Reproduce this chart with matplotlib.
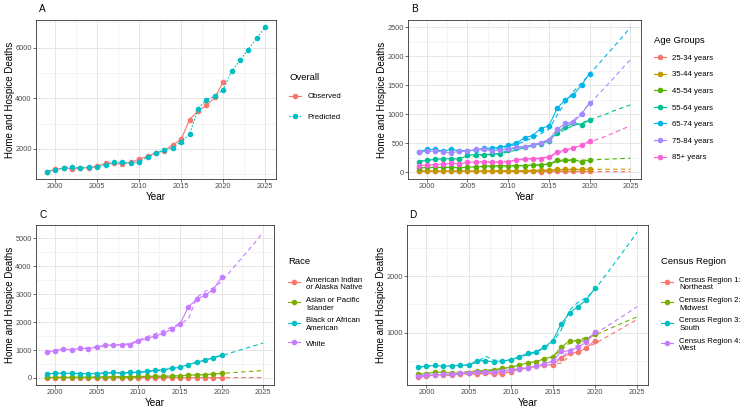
import matplotlib
matplotlib.use("Agg")
import matplotlib.pyplot as plt
from matplotlib.lines import Line2D
from matplotlib.ticker import MultipleLocator, FixedLocator

plt.rcParams['font.family'] = ['Liberation Sans', 'DejaVu Sans']

# ---------------- data ----------------
years_obs = list(range(1999, 2021))
years_pred = list(range(1999, 2026))

# Panel A: overall
overall_obs = [1110, 1190, 1240, 1220, 1250, 1260, 1320, 1430, 1430, 1410, 1470,
               1600, 1710, 1840, 1930, 2160, 2380, 3160, 3500, 3720, 4030, 4640]
overall_pred = [1100, 1180, 1260, 1300, 1240, 1280, 1290, 1380, 1500, 1470, 1430,
                1500, 1670, 1840, 1960, 2050, 2290, 2570, 3590, 3940, 4080, 4340,
                5060, 5490, 5920, 6370, 6800]

# Panel B: age groups
age_labels = ["25-34 years", "35-44 years", "45-54 years", "55-64 years",
              "65-74 years", "75-84 years", "85+ years"]
age_colors = ["#F8766D", "#C49A00", "#53B400", "#00C094", "#00B6EB", "#A58AFF", "#FB61D7"]
age_obs = [
    [10, 10, 10, 10, 10, 10, 10, 10, 10, 10, 10, 10, 10, 10, 10, 5, 10, 10, 10, 10, 10, 10],
    [25, 20, 20, 15, 20, 20, 20, 15, 20, 15, 20, 20, 25, 20, 20, 35, 30, 45, 45, 50, 45, 50],
    [70, 80, 80, 80, 80, 75, 85, 90, 100, 110, 110, 110, 110, 110, 120, 120, 140, 200, 210, 210, 180, 210],
    [180, 200, 220, 230, 230, 220, 290, 300, 300, 310, 320, 380, 420, 440, 460, 490, 540, 680, 780, 840, 820, 900],
    [340, 390, 390, 360, 390, 370, 370, 380, 410, 410, 430, 460, 500, 590, 630, 750, 800, 1100, 1250, 1330, 1500, 1700],
    [340, 360, 360, 350, 330, 360, 360, 390, 390, 370, 380, 400, 430, 440, 460, 500, 560, 740, 840, 860, 1000, 1200],
    [110, 120, 130, 140, 150, 140, 170, 170, 180, 170, 170, 180, 210, 230, 230, 230, 260, 350, 380, 420, 460, 540],
]
age_pred = [
    [10, 10, 10, 10, 10, 10, 10, 10, 10, 10, 10, 10, 10, 10, 10, 10, 9, 9, 9, 9, 9, 8, 8, 8, 8, 8, 8],
    [20, 20, 20, 20, 20, 20, 20, 20, 20, 21, 22, 23, 24, 26, 28, 30, 33, 37, 40, 42, 44, 46, 47, 48, 49, 50, 50],
    [72, 75, 78, 80, 83, 86, 89, 92, 95, 100, 105, 108, 110, 113, 118, 125, 140, 180, 195, 200, 205, 210, 215, 220, 228, 234, 240],
    [190, 205, 220, 230, 240, 250, 260, 275, 290, 305, 320, 345, 380, 420, 460, 500, 540, 650, 740, 800, 850, 900, 950, 1000, 1060, 1110, 1160],
    [360, 365, 370, 372, 375, 378, 380, 385, 390, 395, 410, 440, 480, 530, 590, 660, 740, 980, 1200, 1390, 1540, 1690, 1850, 2010, 2170, 2330, 2500],
    [350, 352, 355, 357, 360, 362, 365, 367, 370, 375, 385, 400, 420, 440, 470, 510, 560, 680, 800, 890, 1030, 1180, 1330, 1480, 1630, 1790, 1940],
    [115, 122, 130, 137, 143, 150, 157, 163, 170, 175, 180, 190, 205, 220, 235, 245, 260, 320, 370, 410, 460, 510, 570, 620, 680, 740, 800],
]

# Panel C: race
race_labels = ["American Indian\nor Alaska Native", "Asian or Pacific\nIslander",
               "Black or African\nAmerican", "White"]
race_colors = ["#F8766D", "#7CAE00", "#00BFC4", "#C77CFF"]
race_obs = [
    [10, 10, 10, 10, 10, 10, 10, 10, 10, 10, 10, 15, 15, 15, 15, 15, 15, 10, 10, 10, 10, 10],
    [20, 20, 25, 25, 30, 30, 35, 35, 45, 40, 45, 55, 55, 60, 60, 70, 80, 100, 110, 120, 140, 170],
    [140, 170, 170, 165, 155, 155, 155, 180, 200, 165, 200, 200, 240, 270, 300, 345, 380, 480, 570, 630, 730, 820],
    [930, 980, 1040, 1010, 1060, 1050, 1100, 1180, 1170, 1190, 1190, 1320, 1420, 1500, 1600, 1750, 1930, 2540, 2820, 2960, 3160, 3620],
]
race_pred = [
    [8, 8, 9, 9, 9, 10, 10, 10, 10, 11, 11, 11, 11, 12, 12, 12, 12, 12, 12, 12, 12, 12, 12, 12, 12, 12, 12],
    [20, 22, 24, 26, 28, 30, 33, 36, 39, 42, 45, 49, 53, 57, 62, 67, 75, 90, 105, 120, 140, 165, 185, 205, 225, 245, 265],
    [155, 158, 160, 162, 165, 168, 170, 175, 180, 185, 190, 205, 225, 250, 280, 320, 370, 450, 550, 640, 720, 800, 890, 980, 1070, 1160, 1250],
    [940, 970, 1000, 1030, 1060, 1090, 1120, 1150, 1180, 1200, 1230, 1360, 1470, 1580, 1700, 1820, 1950, 2100, 2880, 3100, 3230, 3450, 3800, 4150, 4500, 4850, 5220],
]

# Panel D: census region
region_labels = ["Census Region 1:\nNortheast", "Census Region 2:\nMidwest",
                 "Census Region 3:\nSouth", "Census Region 4:\nWest"]
region_colors = ["#F8766D", "#7CAE00", "#00BFC4", "#C77CFF"]
region_obs = [
    [216, 240, 263, 257, 251, 281, 292, 275, 287, 275, 281, 316, 357, 380, 409, 433, 439, 556, 637, 661, 737, 865],
    [275, 281, 310, 304, 292, 287, 298, 322, 327, 339, 374, 392, 433, 474, 491, 544, 579, 749, 860, 860, 883, 971],
    [392, 415, 427, 409, 421, 427, 433, 509, 509, 491, 509, 520, 579, 637, 667, 749, 860, 1158, 1351, 1462, 1585, 1784],
    [240, 251, 263, 269, 269, 287, 292, 310, 310, 316, 333, 345, 368, 386, 409, 456, 503, 672, 684, 749, 836, 1018],
]
region_pred = [
    [210, 225, 240, 250, 258, 266, 274, 280, 286, 292, 300, 320, 350, 380, 410, 430, 445, 470, 590, 680, 740, 810, 895, 980, 1065, 1150, 1235],
    [270, 280, 290, 298, 305, 312, 320, 330, 340, 355, 370, 395, 430, 470, 500, 540, 580, 700, 820, 880, 920, 960, 1025, 1090, 1155, 1220, 1280],
    [400, 405, 410, 415, 420, 425, 440, 480, 590, 520, 510, 530, 570, 610, 660, 730, 830, 1050, 1400, 1540, 1620, 1760, 1960, 2160, 2360, 2560, 2770],
    [240, 250, 260, 268, 276, 284, 292, 300, 308, 316, 330, 350, 375, 400, 430, 460, 500, 560, 700, 790, 880, 980, 1075, 1170, 1265, 1360, 1460],
]

x_ticks = [2000, 2005, 2010, 2015, 2020, 2025]

# ---------------- layout ----------------
W, H = 750, 413
fig = plt.figure(figsize=(W / 100, H / 100), dpi=100)


def add_ax(l, t, r, b):
    ax = fig.add_axes([l / W, 1 - b / H, (r - l) / W, (b - t) / H])
    ax._px = (r - l, b - t)
    return ax


def style(ax, yticks, yminor):
    ax.set_facecolor("white")
    for s in ax.spines.values():
        s.set_color("#333333")
        s.set_linewidth(0.6)
    ax.set_axisbelow(True)
    ax.set_xticks(x_ticks)
    ax.xaxis.set_minor_locator(MultipleLocator(2.5))
    ax.set_yticks(yticks)
    ax.yaxis.set_minor_locator(FixedLocator(yminor))
    ax.grid(which="major", color="#E6E6E6", linewidth=0.7)
    ax.grid(which="minor", color="#EFEFEF", linewidth=0.45)
    ax.tick_params(which="major", length=2.0, width=0.5, color="#333333",
                   labelsize=5.3, labelcolor="#4D4D4D", pad=1.0)
    ax.tick_params(which="minor", length=0)
    ax.set_xlabel("Year", fontsize=7.2)
    ax.set_ylabel("Home and Hospice Deaths", fontsize=7.0)
    wpx, hpx = ax._px
    ax.yaxis.set_label_coords(-21.0 / wpx, 0.5)
    ax.xaxis.set_label_coords(0.5, -12.5 / hpx)
    ax.margins(x=0.05, y=0.05)


def legend(ax, handles, labels, title, x, y, spacing, title_sep_px, hh=0.7):
    leg = ax.legend(handles, labels, title=title, loc="upper left",
                    bbox_to_anchor=(x / W, 1 - y / H), bbox_transform=fig.transFigure,
                    frameon=False, fontsize=5.6, title_fontsize=6.8, alignment="left",
                    handlelength=1.6, handletextpad=0.75, labelspacing=spacing,
                    handleheight=hh, borderpad=0, borderaxespad=0)
    for t in leg.get_texts():
        t.set_linespacing(1.1)
    leg._legend_box.sep = title_sep_px * 72.0 / 100.0
    return leg


LW = 0.8
MS = 3.0

# Panel A
axA = add_ax(36, 20, 276, 179)
axA.plot(years_obs, overall_obs, color="#F8766D", linewidth=LW, marker="o", markersize=MS)
axA.plot(years_pred, overall_pred, color="#00BFC4", linewidth=LW, linestyle=(0, (1.5, 1.5)),
         marker="o", markersize=MS)
style(axA, [2000, 4000, 6000], [1000, 3000, 5000, 7000])
hA = [Line2D([], [], color="#F8766D", linewidth=LW, marker="o", markersize=MS),
      Line2D([], [], color="#00BFC4", linewidth=LW, linestyle=(0, (1.5, 1.5)), marker="o", markersize=MS)]
legend(axA, hA, ["Observed", "Predicted"], "Overall", 289, 73, 1.65, 10.8)

# Panel B
axB = add_ax(408, 20, 641, 179)
for obs, pred, c in zip(age_obs, age_pred, age_colors):
    axB.plot(years_obs, obs, color=c, linewidth=LW, marker="o", markersize=MS)
    axB.plot(years_pred, pred, color=c, linewidth=LW, linestyle=(0, (4, 3)))
style(axB, [0, 500, 1000, 1500, 2000, 2500], [250, 750, 1250, 1750, 2250])
hB = [Line2D([], [], color=c, linewidth=LW, marker="o", markersize=MS) for c in age_colors]
legend(axB, hB, age_labels, "Age Groups", 654, 36, 1.18, 9.2)

# Panel C
axC = add_ax(36, 225, 274, 385)
for obs, pred, c in zip(race_obs, race_pred, race_colors):
    axC.plot(years_obs, obs, color=c, linewidth=LW, marker="o", markersize=MS)
    axC.plot(years_pred, pred, color=c, linewidth=LW, linestyle=(0, (4, 3)))
style(axC, [0, 1000, 2000, 3000, 4000, 5000], [500, 1500, 2500, 3500, 4500])
hC = [Line2D([], [], color=c, linewidth=LW, marker="o", markersize=MS) for c in race_colors]
legend(axC, hC, race_labels, "Race", 288, 257, 0.75, 10.7, hh=2.1)

# Panel D
axD = add_ax(407, 225, 648, 385)
for obs, pred, c in zip(region_obs, region_pred, region_colors):
    axD.plot(years_obs, obs, color=c, linewidth=LW, marker="o", markersize=MS)
    axD.plot(years_pred, pred, color=c, linewidth=LW, linestyle=(0, (4, 3)))
style(axD, [1000, 2000], [500, 1500, 2500])
hD = [Line2D([], [], color=c, linewidth=LW, marker="o", markersize=MS) for c in region_colors]
legend(axD, hD, region_labels, "Census Region", 661, 257, 0.75, 10.7, hh=2.1)

# panel tags
for tag, x, y in [("A", 39, 9), ("B", 411, 9), ("C", 39, 215), ("D", 409, 215)]:
    fig.text(x / W, 1 - y / H, tag, fontsize=7.2, va="center", ha="left")

fig.savefig("out.png", dpi=100, facecolor="white")
